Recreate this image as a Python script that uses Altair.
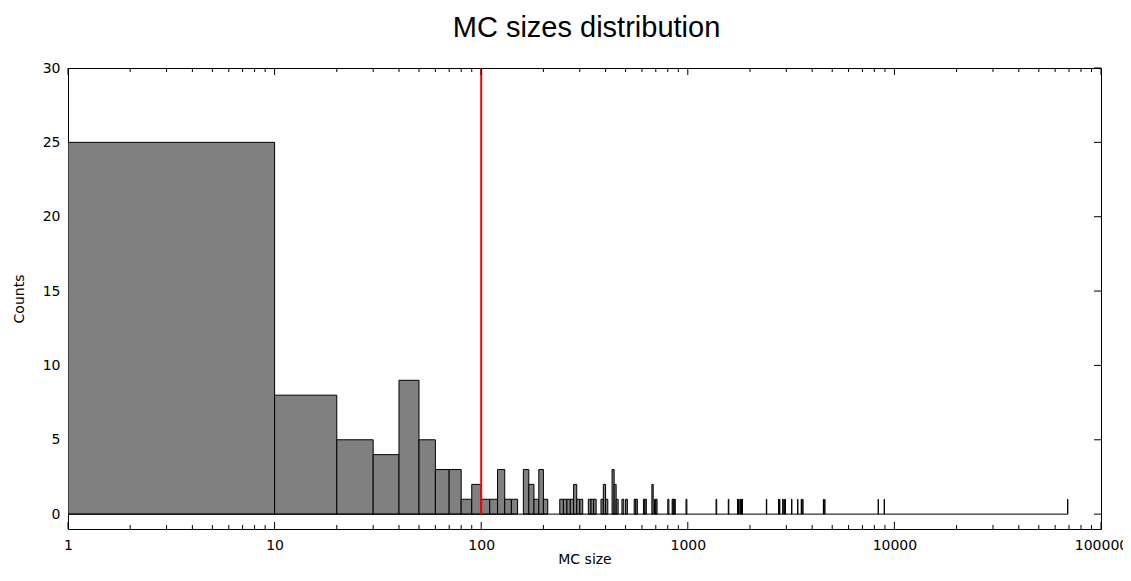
import altair as alt
import pandas as pd

# ---- data ----
bin_width = 10
bin_lo = [0, 10, 20, 30, 40, 50, 60, 70, 80, 90, 100, 110, 120, 130, 140, 160, 170, 180, 190, 200,
          240, 250, 260, 270, 280, 290, 300,
          330, 340, 350,
          380, 390, 400,
          430, 440, 450, 480, 500,
          550, 560, 610, 620, 670, 690, 700,
          800, 840, 850, 860, 980,
          1370, 1570, 1740, 1760, 1790, 1810, 1830,
          2400, 2750, 2780, 2880, 2920, 2960, 3180, 3400, 3540, 3600, 4530, 4600,
          8350, 8930, 69000]
counts = [25, 8, 5, 4, 9, 5, 3, 3, 1, 2, 1, 1, 3, 1, 1, 3, 2, 1, 3, 1,
          1, 1, 1, 1, 2, 1, 1,
          1, 1, 1,
          1, 2, 1,
          3, 2, 1, 1, 1,
          1, 1, 1, 1, 2, 1, 1,
          1, 1, 1, 1, 1,
          1, 1, 1, 1, 1, 1, 1,
          1, 1, 1, 1, 1, 1, 1, 1, 1, 1, 1, 1,
          1, 1, 1]
cut_value = 100

x_major = [1, 10, 100, 1000, 10000, 100000]
x_minor = [2, 3, 4, 5, 6, 7, 8, 9,
           20, 30, 40, 50, 60, 70, 80, 90,
           200, 300, 400, 500, 600, 700, 800, 900,
           2000, 3000, 4000, 5000, 6000, 7000, 8000, 9000,
           20000, 30000, 40000, 50000, 60000, 70000, 80000, 90000]
y_ticks = [0, 5, 10, 15, 20, 25, 30]
x_domain = [1, 100000]
y_domain = [-1, 30]

W, H = 1033, 461
MAJ, MIN = 7, 4
FONT = "DejaVu Sans"

df = pd.DataFrame({"lo": bin_lo, "count": counts})
df["hi"] = df["lo"] + bin_width
df["lo_plot"] = df["lo"].clip(lower=x_domain[0])
df["base"] = 0

zero_df = pd.DataFrame({"lo_plot": [df["lo_plot"].min()], "hi": [df["hi"].max()], "count": [0]})
cut_df = pd.DataFrame({"lo_plot": [cut_value], "count": [0], "top": [y_domain[1]]})
xmaj_df = pd.DataFrame({"lo_plot": x_major})
xmin_df = pd.DataFrame({"lo_plot": x_minor})
ytk_df = pd.DataFrame({"count": y_ticks})

xscale = alt.Scale(type="log", domain=x_domain)
yscale = alt.Scale(domain=y_domain, nice=False, zero=False)

x_axis = alt.Axis(values=x_major, format="d", ticks=False, domain=False, grid=False,
                  labelPadding=9, labelFlush=False, title="MC size", titlePadding=0)
y_axis = alt.Axis(values=y_ticks, ticks=False, domain=False, grid=False,
                  labelPadding=8, labelFlush=False, title="Counts", titlePadding=16)

X = alt.X("lo_plot:Q", scale=xscale, axis=x_axis)
Y = alt.Y("count:Q", scale=yscale, axis=y_axis)

bars = alt.Chart(df).mark_rect(fill="#808080", stroke="black", strokeWidth=1, clip=True).encode(
    x=X, x2="hi:Q", y=Y, y2="base:Q")

tick_style = dict(color="black", strokeWidth=1)
xt_bot = alt.Chart(xmaj_df).mark_rule(**tick_style).encode(
    x=X, y=alt.value(H), y2=alt.value(H - MAJ))
xt_top = alt.Chart(xmaj_df).mark_rule(**tick_style).encode(
    x=X, y=alt.value(0), y2=alt.value(MAJ))
xm_bot = alt.Chart(xmin_df).mark_rule(**tick_style).encode(
    x=X, y=alt.value(H), y2=alt.value(H - MIN))
xm_top = alt.Chart(xmin_df).mark_rule(**tick_style).encode(
    x=X, y=alt.value(0), y2=alt.value(MIN))
yt_right = alt.Chart(ytk_df).mark_rule(**tick_style).encode(
    y=Y, x=alt.value(W), x2=alt.value(W - MAJ))

zero_line = alt.Chart(zero_df).mark_rule(color="black", strokeWidth=1, clip=True).encode(
    x=X, x2="hi:Q", y=Y)

cut_line = alt.Chart(cut_df).mark_rule(color="#ff0000", strokeWidth=2, clip=True).encode(
    x=X, y=Y, y2="top:Q")

chart = alt.layer(
    bars, zero_line, cut_line, xt_bot, xt_top, xm_bot, xm_top, yt_right
).properties(
    width=W, height=H,
    title=alt.TitleParams("MC sizes distribution", font="Liberation Sans", fontSize=29,
                          fontWeight="normal", color="black", anchor="middle", offset=18, dx=2),
    autosize=alt.AutoSizeParams(type="none"),
    padding={"left": 60, "top": 60, "right": 22, "bottom": 38},
    background="white",
).configure_view(
    stroke="black", strokeWidth=1
).configure_axis(
    labelFont=FONT, titleFont=FONT, labelFontSize=14, titleFontSize=14,
    labelColor="black", titleColor="black", titleFontWeight="normal",
)

chart.save("out.html", embed_options={"renderer": "svg", "actions": False})
